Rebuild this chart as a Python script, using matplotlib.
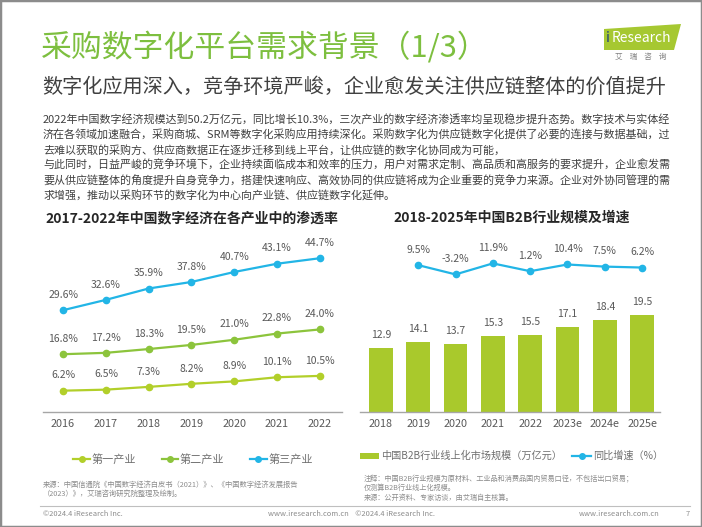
import matplotlib
matplotlib.use('Agg')
import matplotlib.pyplot as plt
from matplotlib.patches import Polygon, Rectangle
from matplotlib.lines import Line2D

plt.rcParams['font.family'] = ['Noto Sans CJK SC', 'DejaVu Sans']

# left chart data: digital economy penetration by industry (%)
years_left = ['2016', '2017', '2018', '2019', '2020', '2021', '2022']
primary = [6.2, 6.5, 7.3, 8.2, 8.9, 10.1, 10.5]
secondary = [16.8, 17.2, 18.3, 19.5, 21.0, 22.8, 24.0]
tertiary = [29.6, 32.6, 35.9, 37.8, 40.7, 43.1, 44.7]
series_names = ['第一产业', '第二产业', '第三产业']

# right chart data: B2B online scale (trillion yuan) and growth (%)
years_right = ['2018', '2019', '2020', '2021', '2022', '2023e', '2024e', '2025e']
b2b_scale = [12.9, 14.1, 13.7, 15.3, 15.5, 17.1, 18.4, 19.5]
b2b_growth = [9.5, -3.2, 11.9, 1.2, 10.4, 7.5, 6.2]
right_legend = ['中国B2B行业线上化市场规模（万亿元）', '同比增速（%）']

GREEN_TITLE = '#7dbf3f'
C1 = '#b2cf2a'
C2 = '#8cc43c'
C3 = '#22b5e6'
BAR = '#a9c92c'
TXT = '#404040'
LBL = '#595959'
LEG = '#6f6f6f'
NOTE = '#8c8c8c'

W, H = 702, 527
fig = plt.figure(figsize=(W / 100, H / 100), dpi=100)


def fx(x):
    return x / W


def fy(y):
    return 1 - y / H


# slide frame
fig.add_artist(Rectangle((0, 0), 1, 1, transform=fig.transFigure, fill=False,
                         edgecolor='#8c8c8c', linewidth=2.5))

# header
fig.text(fx(41), fy(48), '采购数字化平台需求背景（1/3）', color=GREEN_TITLE,
         fontsize=22.2, va='center', ha='left')
fig.text(fx(42), fy(87), '数字化应用深入，竞争环境严峻，企业愈发关注供应链整体的价值提升',
         color=TXT, fontsize=14.5, va='center', ha='left')

# logo
fig.add_artist(Polygon([(fx(604), fy(29)), (fx(681), fy(24)), (fx(674), fy(50)), (fx(604), fy(50))],
                       closed=True, transform=fig.transFigure, facecolor='#a6c831', edgecolor='none'))
fig.text(fx(606), fy(38), 'i', color='#1f3f7a', fontsize=10, va='center', ha='left')
fig.text(fx(612), fy(38), 'Research', color='white', fontsize=10, va='center', ha='left')
fig.text(fx(641), fy(57), '艾    瑞    咨    询', color='#808080', fontsize=5.5, va='center', ha='center')

body = [
    '2022年中国数字经济规模达到50.2万亿元，同比增长10.3%，三次产业的数字经济渗透率均呈现稳步提升态势。数字技术与实体经',
    '济在各领域加速融合，采购商城、SRM等数字化采购应用持续深化。采购数字化为供应链数字化提供了必要的连接与数据基础，过',
    '去难以获取的采购方、供应商数据正在逐步迁移到线上平台，让供应链的数字化协同成为可能，',
    '与此同时，日益严峻的竞争环境下，企业持续面临成本和效率的压力，用户对需求定制、高品质和高服务的要求提升，企业愈发需',
    '要从供应链整体的角度提升自身竞争力，搭建快速响应、高效协同的供应链将成为企业重要的竞争力来源。企业对外协同管理的需',
    '求增强，推动以采购环节的数字化为中心向产业链、供应链数字化延伸。',
]
for i, line in enumerate(body):
    fig.text(fx(43), fy(119 + i * 15.5), line, color=TXT, fontsize=7.95, va='center', ha='left')

# chart titles
fig.text(fx(192), fy(218), '2017-2022年中国数字经济在各产业中的渗透率', color='#262626',
         fontsize=10, fontweight='bold', va='center', ha='center')
fig.text(fx(512), fy(218), '2018-2025年中国B2B行业规模及增速', color='#262626',
         fontsize=10, fontweight='bold', va='center', ha='center')

ax_bottom = fy(412)
ax_h = 172 / H


def style_axis(ax):
    for s in ['top', 'right', 'left']:
        ax.spines[s].set_visible(False)
    ax.spines['bottom'].set_color('#a6a6a6')
    ax.spines['bottom'].set_linewidth(1)
    ax.set_yticks([])
    ax.tick_params(axis='x', length=0, pad=5, labelsize=7.8, labelcolor=LBL)


# left chart
ax1 = fig.add_axes([fx(43), ax_bottom, 299 / W, ax_h])
style_axis(ax1)
xs = range(len(years_left))
for vals, col, name in zip([primary, secondary, tertiary], [C1, C2, C3], series_names):
    ax1.plot(xs, vals, color=col, linewidth=1.6, marker='o', markersize=4.5, label=name)
    for x, v in zip(xs, vals):
        ax1.annotate(f'{v:.1f}%', (x, v), xytext=(0, 11), textcoords='offset points',
                     ha='center', va='center', fontsize=7.5, color=LBL)
ax1.set_xticks(list(xs))
ax1.set_xticklabels(years_left)
ax1.set_xlim(-0.47, 6.52)
ax1.set_ylim(0, 50)
ax1.patch.set_alpha(0)

handles = [Line2D([], [], color=c, linewidth=1.6, marker='o', markersize=4) for c in [C1, C2, C3]]
fig.legend(handles, series_names, loc='center', bbox_to_anchor=(fx(193), fy(459)), ncol=3,
           frameon=False, fontsize=8, handlelength=1.5, handletextpad=0.15, columnspacing=2.3,
           labelcolor=LEG, borderpad=0, borderaxespad=0)

# right chart
ax2 = fig.add_axes([fx(360), ax_bottom, 300 / W, ax_h])
style_axis(ax2)
xr = range(len(years_right))
ax2.bar(xr, b2b_scale, width=0.64, color=BAR)
for x, v in zip(xr, b2b_scale):
    ax2.annotate(f'{v:.1f}', (x, v), xytext=(0, 9), textcoords='offset points',
                 ha='center', va='center', fontsize=7.5, color=LBL)
ax2.set_xticks(list(xr))
ax2.set_xticklabels(years_right)
ax2.set_xlim(-0.56, 7.48)
ax2.set_ylim(0, 34.4)

ax3 = ax2.twinx()
ax3.set_axis_off()
xg = list(xr)[1:]
ax3.plot(xg, b2b_growth, color=C3, linewidth=1.6, marker='o', markersize=4.5)
for x, v in zip(xg, b2b_growth):
    ax3.annotate(f'{v:.1f}%', (x, v), xytext=(0, 11), textcoords='offset points',
                 ha='center', va='center', fontsize=7.5, color=LBL)
ax3.set_ylim(-192, 44)
ax3.set_xlim(-0.56, 7.48)

h_bar = Rectangle((0, 0), 1, 1, facecolor=BAR, edgecolor='none')
h_line = Line2D([], [], color=C3, linewidth=1.6, marker='o', markersize=4)
fig.legend([h_bar, h_line], right_legend, loc='center',
           bbox_to_anchor=(fx(511.5), fy(456)), ncol=2, frameon=False, fontsize=7.3,
           handlelength=1.9, handleheight=0.55, handletextpad=0.15, columnspacing=1.0,
           labelcolor=LEG, borderpad=0, borderaxespad=0)

# footnotes
fig.text(fx(43), fy(485), '来源：中国信通院《中国数字经济白皮书（2021）》、《中国数字经济发展报告',
         color=NOTE, fontsize=5.25, va='center', ha='left')
fig.text(fx(43), fy(494), '（2023）》，艾瑞咨询研究院整理及绘制。',
         color=NOTE, fontsize=5.25, va='center', ha='left')
fig.text(fx(364), fy(479), '注释：中国B2B行业规模为原材料、工业品和消费品国内贸易口径，不包括出口贸易；',
         color=NOTE, fontsize=5.15, va='center', ha='left')
fig.text(fx(364), fy(488), '仅测算B2B行业线上化规模。',
         color=NOTE, fontsize=5.15, va='center', ha='left')
fig.text(fx(364), fy(498), '来源：公开资料、专家访谈，由艾瑞自主核算。',
         color=NOTE, fontsize=5.15, va='center', ha='left')

fig.add_artist(Line2D([fx(40), fx(690)], [fy(506), fy(506)], transform=fig.transFigure,
                      color='#bfbfbf', linewidth=0.8))
fig.text(fx(43), fy(514), '©2024.4 iResearch Inc.', color=NOTE, fontsize=5.4, va='center', ha='left')
fig.text(fx(351), fy(514), 'www.iresearch.com.cn    ©2024.4 iResearch Inc.', color=NOTE,
         fontsize=5.4, va='center', ha='center')
fig.text(fx(660), fy(514), 'www.iresearch.com.cn', color=NOTE, fontsize=5.4, va='center', ha='right')
fig.text(fx(688), fy(514), '7', color=NOTE, fontsize=5.4, va='center', ha='center')

fig.savefig('out.png', dpi=100, facecolor='white')
